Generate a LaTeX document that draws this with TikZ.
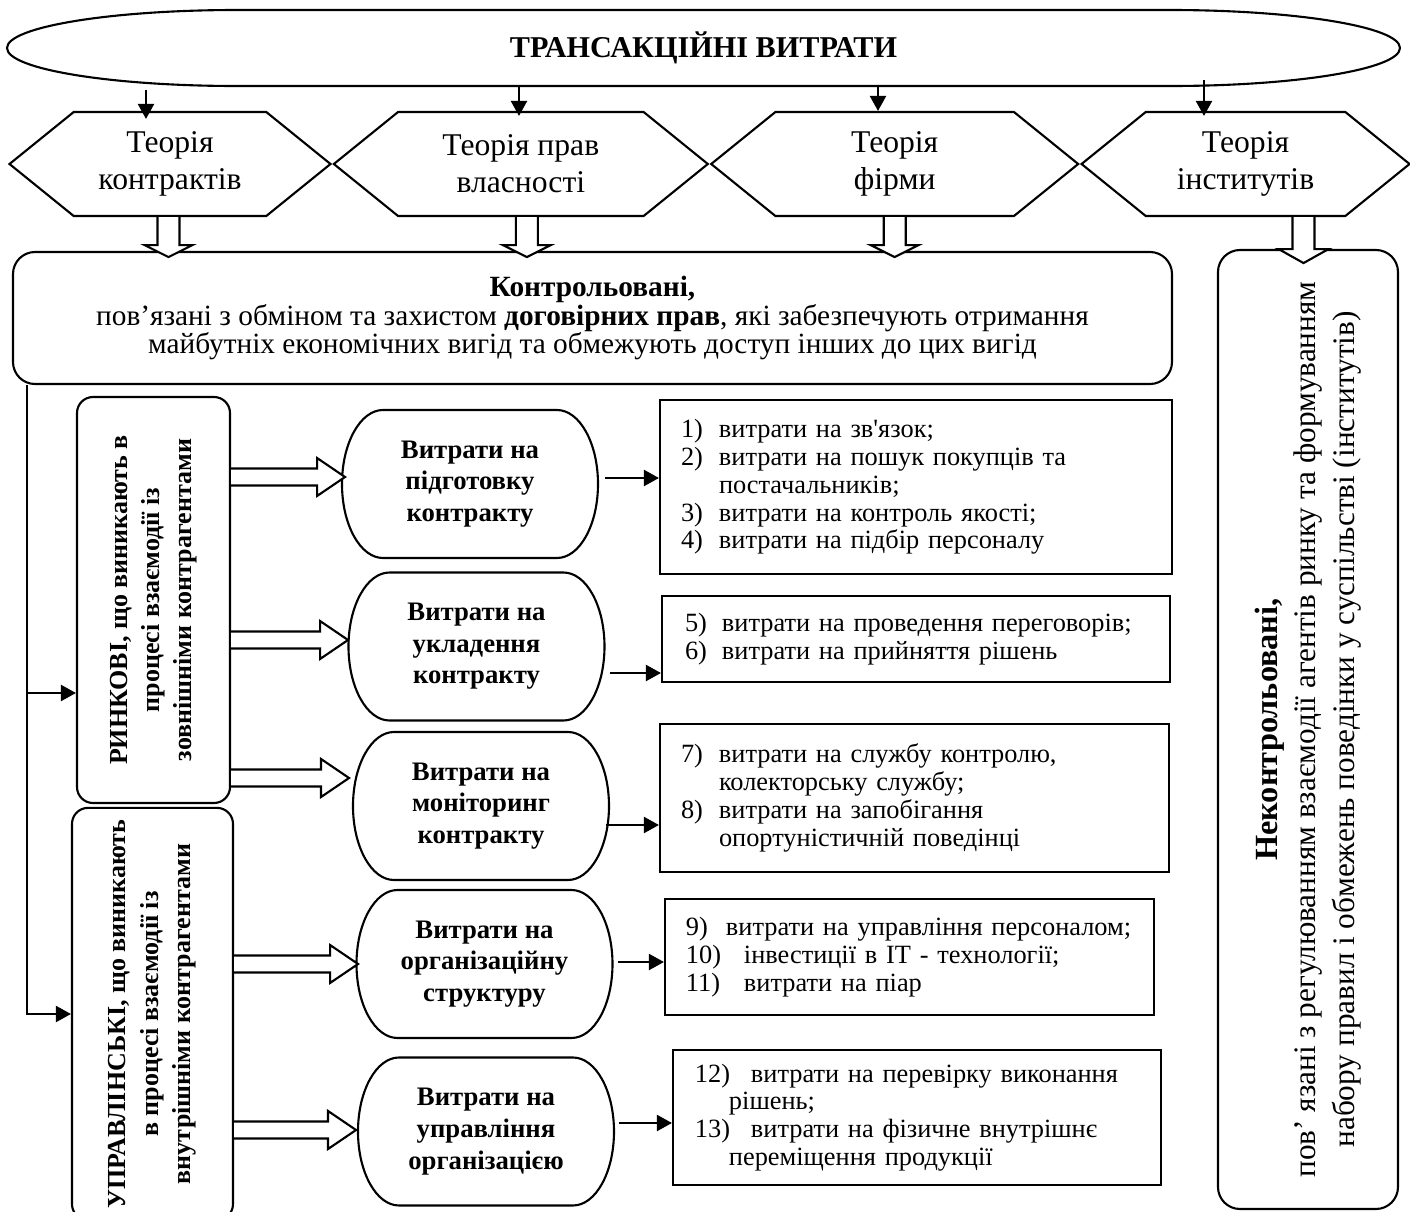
\documentclass[tikz,border=0pt]{standalone}
\usepackage{fontspec}
\setmainfont{Liberation Serif}
\usetikzlibrary{positioning,arrows.meta,calc,shapes.symbols}

\begin{document}
\begin{tikzpicture}[
    line width=0.6pt,
    arrow/.style={-{Triangle[length=1.5mm,width=1.6mm]}},
    theory/.style={signal, signal to=east and west, signal pointer angle=78, draw,
        minimum height=1.04cm, align=center, font=\fontsize{9}{10.5}\selectfont},
    bigbox/.style={draw, rounded corners=0.22cm, align=center, fill=white},
    sidebox/.style={draw, rounded corners=0.16cm, rotate=90, align=center,
        font=\fontsize{7.4}{9.2}\selectfont\bfseries},
    costoval/.style={outer sep=0pt, minimum width=2.56cm, minimum height=1.48cm, align=center,
        font=\fontsize{7.6}{9}\selectfont\bfseries},
    listbox/.style={draw, align=left, font=\fontsize{7.5}{7.9}\selectfont},
    blockarrow/.style={draw, fill=white}
]
\useasboundingbox (0,0) rectangle (14.10,-12.12);

% title
\node[outer sep=0pt, minimum width=13.93cm, minimum height=0.76cm,
    font=\fontsize{8.6}{10}\selectfont\bfseries] (title) at (7.035,-0.48) {ТРАНСАКЦІЙНІ ВИТРАТИ};
\draw ([xshift=2.3cm]title.north west) -- ([xshift=-2.3cm]title.north east)
    arc[start angle=90, end angle=-90, x radius=2.3cm, y radius=0.38cm]
    -- ([xshift=2.3cm]title.south west)
    arc[start angle=270, end angle=90, x radius=2.3cm, y radius=0.38cm] -- cycle;

% theories
\node[theory, minimum width=3.21cm] (h1) at (1.70,-1.64) {Теорія\\контрактів};
\node[theory, minimum width=3.74cm, right=0cm of h1] (h2) {Теорія прав\\власності};
\node[theory, minimum width=3.67cm, right=0cm of h2] (h3) {Теорія\\фірми};
\node[theory, minimum width=3.28cm, right=0cm of h3] (h4) {Теорія\\інститутів};

\coordinate (t1) at (1.46,-0.90);
\coordinate (t2) at (5.19,-0.86);
\coordinate (t3) at (8.78,-0.86);
\coordinate (t4) at (12.04,-0.80);
\draw[arrow] (t1) -- ([yshift=-0.08cm]t1 |- h1.north);
\draw[arrow] (t2) -- ([yshift=-0.05cm]t2 |- h2.north);
\draw[arrow] (t3) -- (t3 |- h3.north);
\draw[arrow] (t4) -- ([yshift=-0.05cm]t4 |- h4.north);

% controlled / uncontrolled
\node[bigbox, minimum width=11.59cm, minimum height=1.32cm,
    font=\fontsize{8.35}{8.1}\selectfont] (contr) at (5.925,-3.18)
    {\textbf{Контрольовані,}\\пов’язані з обміном та захистом \textbf{договірних прав}, які забезпечують отримання\\майбутніх економічних вигід та обмежують доступ інших до цих вигід};
\node[bigbox, rotate=90, minimum width=9.59cm, minimum height=1.80cm,
    font=\fontsize{8.9}{11}\selectfont] (neko) at (13.08,-7.295)
    {{\fontsize{9.2}{11}\selectfont\bfseries Неконтрольовані,}\\пов’ язані з регулюванням взаємодії агентів ринку та формуванням\\набору правил і обмежень поведінки у суспільстві (інститутів)};

\draw[blockarrow] ($(h1.south)+(-0.125,0)$) -- ++(0,-0.28) -- ++(-0.13,0) -- ++(0.24,-0.12)
    -- ++(0.24,0.12) -- ++(-0.13,0) -- ++(0,0.28);
\draw[blockarrow] ($(h2.south)+(-0.05,0)$) -- ++(0,-0.28) -- ++(-0.13,0) -- ++(0.24,-0.12)
    -- ++(0.24,0.12) -- ++(-0.13,0) -- ++(0,0.28);
\draw[blockarrow] ($(h3.south)+(-0.11,0)$) -- ++(0,-0.28) -- ++(-0.13,0) -- ++(0.24,-0.12)
    -- ++(0.24,0.12) -- ++(-0.13,0) -- ++(0,0.28);
\draw[blockarrow] ($(h4.south)+(0.47,0)$) -- ++(0,-0.32) -- ++(-0.14,0) -- ++(0.25,-0.14)
    -- ++(0.25,0.14) -- ++(-0.14,0) -- ++(0,0.32);

% market / managerial
\node[sidebox, minimum width=4.06cm, minimum height=1.53cm] (rynk) at (1.535,-6.00)
    {РИНКОВІ, що виникають в\\процесі взаємодії із\\зовнішніми контрагентами};
\node[sidebox, minimum width=3.92cm, minimum height=1.61cm] (upr) at (1.525,-10.14)
    {УПРАВЛІНСЬКІ, що виникають\\в процесі взаємодії із\\внутрішніми контрагентами};

\coordinate (trunk) at ([xshift=0.15cm]contr.south west);
\draw[arrow] (trunk) |- (upr.north);
\draw[arrow] ($(trunk |- rynk.north)+(0,-0.93)$) -- ($(rynk.north)+(0,-0.93)$);

% cost groups
\node[costoval] (o1) at (4.70,-4.84) {Витрати на\\підготовку\\контракту};
\node[costoval] (o2) at (4.765,-6.465) {Витрати на\\укладення\\контракту};
\node[costoval] (o3) at (4.81,-8.06) {Витрати на\\моніторинг\\контракту};
\node[costoval] (o4) at (4.845,-9.64) {Витрати на\\організаційну\\структуру};
\node[costoval] (o5) at (4.86,-11.315) {Витрати на\\управління\\організацією};
\foreach \n in {o1,o2,o3,o4,o5}
    \draw ([xshift=0.41cm]\n.north west) -- ([xshift=-0.41cm]\n.north east)
        arc[start angle=90, end angle=-90, x radius=0.41cm, y radius=0.74cm]
        -- ([xshift=0.41cm]\n.south west)
        arc[start angle=270, end angle=90, x radius=0.41cm, y radius=0.74cm] -- cycle;

\draw[blockarrow] ($(rynk.south)+(0,1.315)$) -- ++(0.86,0) -- ++(0,0.105) -- ++(0.28,-0.19)
    -- ++(-0.28,-0.19) -- ++(0,0.105) -- ++(-0.86,0);
\draw[blockarrow] ($(rynk.south)+(0,-0.315)$) -- ++(0.89,0) -- ++(0,0.105) -- ++(0.28,-0.19)
    -- ++(-0.28,-0.19) -- ++(0,0.105) -- ++(-0.89,0);
\draw[blockarrow] ($(rynk.south)+(0,-1.695)$) -- ++(0.90,0) -- ++(0,0.105) -- ++(0.28,-0.19)
    -- ++(-0.28,-0.19) -- ++(0,0.105) -- ++(-0.90,0);
\draw[blockarrow] ($(upr.south)+(0,0.585)$) -- ++(0.96,0) -- ++(0,0.105) -- ++(0.28,-0.19)
    -- ++(-0.28,-0.19) -- ++(0,0.105) -- ++(-0.96,0);
\draw[blockarrow] ($(upr.south)+(0,-1.075)$) -- ++(0.94,0) -- ++(0,0.105) -- ++(0.28,-0.19)
    -- ++(-0.28,-0.19) -- ++(0,0.105) -- ++(-0.94,0);

% cost items
\node[listbox, minimum width=5.12cm, minimum height=1.74cm, text width=4.70cm] (l1) at (9.16,-4.87)
    {\makebox[0.38cm][l]{1)}витрати на зв\textquotesingle язок;\\
     \makebox[0.38cm][l]{2)}витрати на пошук покупців та\\
     \hspace*{0.38cm}постачальників;\\
     \makebox[0.38cm][l]{3)}витрати на контроль якості;\\
     \makebox[0.38cm][l]{4)}витрати на підбір персоналу};
\node[listbox, minimum width=5.08cm, minimum height=0.86cm, text width=4.62cm] (l2) at (9.16,-6.39)
    {\makebox[0.37cm][l]{5)}витрати на проведення переговорів;\\
     \makebox[0.37cm][l]{6)}витрати на прийняття рішень};
\node[listbox, minimum width=5.09cm, minimum height=1.48cm, text width=4.67cm] (l3) at (9.145,-7.98)
    {\makebox[0.38cm][l]{7)}витрати на службу контролю,\\
     \hspace*{0.38cm}колекторську службу;\\
     \makebox[0.38cm][l]{8)}витрати на запобігання\\
     \hspace*{0.38cm}опортуністичній поведінці};
\node[listbox, minimum width=4.89cm, minimum height=1.16cm, text width=4.47cm] (l4) at (9.095,-9.57)
    {\makebox[0.40cm][l]{9)}витрати на управління персоналом;\\
     \makebox[0.58cm][l]{10)}інвестиції в IT - технології;\\
     \makebox[0.58cm][l]{11)}витрати на піар};
\node[listbox, minimum width=4.88cm, minimum height=1.35cm, text width=4.44cm] (l5) at (9.17,-11.175)
    {\makebox[0.56cm][l]{12)}витрати на перевірку виконання\\
     \hspace*{0.34cm}рішень;\\
     \makebox[0.56cm][l]{13)}витрати на фізичне внутрішнє\\
     \hspace*{0.34cm}переміщення продукції};

\draw[arrow] ($(o1.east)+(0.07,0.06)$) -- ($(o1.east -| l1.west)+(0,0.06)$);
\draw[arrow] ($(o2.east)+(0.05,-0.265)$) -- ($(o2.east -| l2.west)+(0,-0.265)$);
\draw[arrow] ($(o3.east)+(-0.03,-0.19)$) -- ($(o3.east -| l3.west)+(0,-0.19)$);
\draw[arrow] ($(o4.east)+(0.06,0.02)$) -- ($(o4.east -| l4.west)+(0,0.02)$);
\draw[arrow] ($(o5.east)+(0.05,0.085)$) -- ($(o5.east -| l5.west)+(0,0.085)$);
\end{tikzpicture}
\end{document}
